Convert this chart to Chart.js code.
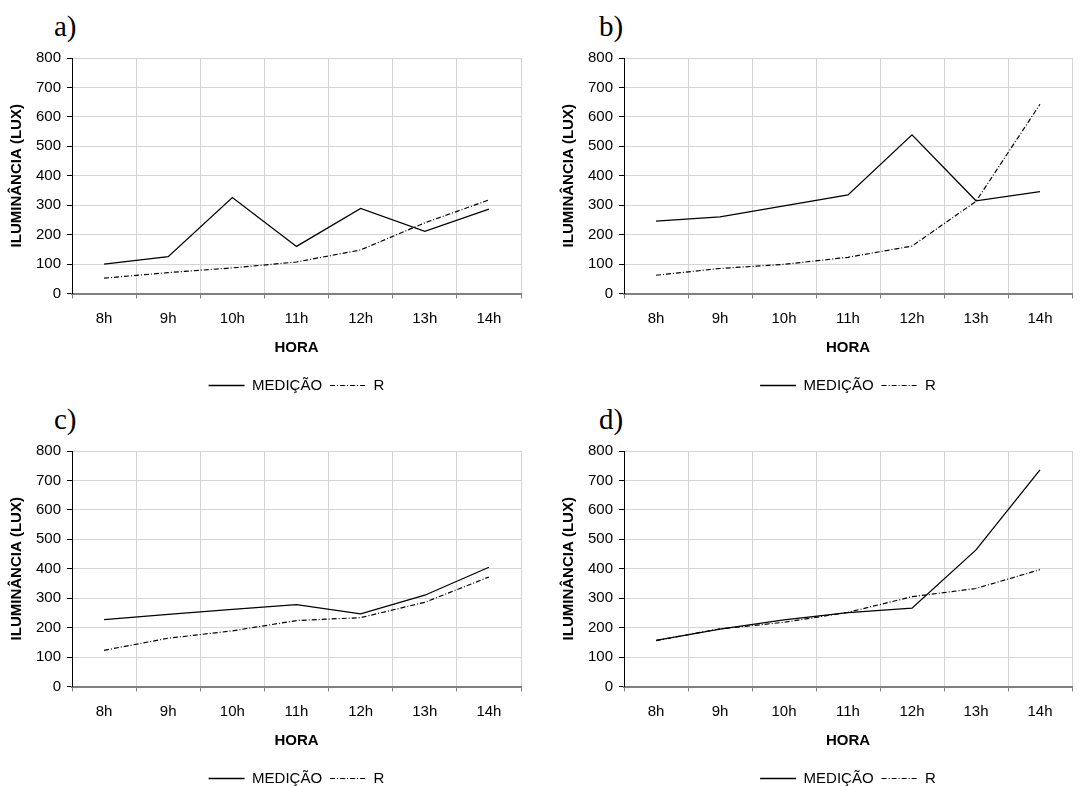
<!DOCTYPE html>
<html>
<head>
<meta charset="utf-8">
<script src="https://cdn.jsdelivr.net/npm/chart.js@4/dist/chart.umd.min.js"></script>
<style>
  body { margin: 0; background: #fff; width: 1083px; height: 786px; position: relative; overflow: hidden; }
  .panel { position: absolute; }
  .tag { position: absolute; font-family: "Liberation Serif", "Times New Roman", serif; font-size: 29px; line-height: 29px; color: #000; }
</style>
</head>
<body>
<div class="tag" style="left:54px;top:12px">a)</div>
<div class="tag" style="left:599px;top:12px">b)</div>
<div class="tag" style="left:54px;top:405px">c)</div>
<div class="tag" style="left:599px;top:405px">d)</div>

<div class="panel" style="left:0;top:0"><canvas id="chartA" width="541" height="405"></canvas></div>
<div class="panel" style="left:552px;top:0"><canvas id="chartB" width="531" height="405"></canvas></div>
<div class="panel" style="left:0;top:393px"><canvas id="chartC" width="541" height="405"></canvas></div>
<div class="panel" style="left:552px;top:393px"><canvas id="chartD" width="531" height="405"></canvas></div>

<script>
// data
const hours = ["8h", "9h", "10h", "11h", "12h", "13h", "14h"];
const yTicks = [0, 100, 200, 300, 400, 500, 600, 700, 800];

const medicaoA = [100, 125, 326, 160, 289, 211, 287];
const rA = [52, 71, 87, 107, 148, 240, 318];

const medicaoB = [246, 260, 298, 335, 539, 315, 346];
const rB = [62, 85, 99, 123, 161, 313, 643];

const medicaoC = [227, 245, 262, 278, 247, 310, 405];
const rC = [123, 164, 189, 224, 234, 286, 372];

const medicaoD = [157, 195, 226, 251, 266, 464, 736];
const rD = [156, 196, 218, 252, 305, 333, 397];

const FONT = "'Liberation Sans', Arial, sans-serif";
const DASH_DOT = [5, 2, 1, 2];

function makeChart(id, medicao, r, padRight) {
  const ctx = document.getElementById(id).getContext("2d");
  return new Chart(ctx, {
    type: "line",
    data: {
      labels: hours,
      datasets: [
        {
          label: "MEDIÇÃO",
          data: medicao,
          borderColor: "#000",
          borderWidth: 1.3,
          pointRadius: 0,
          pointStyle: "line",
          tension: 0,
        },
        {
          label: "R",
          data: r,
          borderColor: "#000",
          borderWidth: 1.2,
          borderDash: DASH_DOT,
          pointRadius: 0,
          pointStyle: "line",
          tension: 0,
        },
      ],
    },
    options: {
      responsive: false,
      animation: false,
      layout: { padding: { top: 58, right: padRight, bottom: 2, left: 0 } },
      plugins: {
        tooltip: { enabled: false },
        legend: {
          position: "bottom",
          fullSize: false,
          labels: {
            usePointStyle: true,
            pointStyleWidth: 36,
            boxHeight: 10,
            padding: 8,
            color: "#000",
            font: { family: FONT, size: 15 },
            // point style legend items lose the dataset dash, put it back
            generateLabels: (chart) => {
              const items = Chart.defaults.plugins.legend.labels.generateLabels(chart);
              items.forEach((item) => {
                const ds = chart.data.datasets[item.datasetIndex];
                item.lineDash = ds.borderDash || [];
                item.lineWidth = ds.borderWidth;
                item.strokeStyle = "#000";
                item.fillStyle = "#000";
              });
              return items;
            },
          },
        },
      },
      scales: {
        x: {
          offset: true,
          grid: { offset: true, color: "#d4d4d4", tickColor: "#808080", tickLength: 5 },
          border: { color: "#808080", width: 2 },
          ticks: { color: "#000", padding: 11, font: { family: FONT, size: 15 }, maxRotation: 0 },
          title: {
            display: true,
            text: "HORA",
            color: "#000",
            padding: { top: 13, bottom: 13 },
            font: { family: FONT, size: 15, weight: "bold" },
          },
          afterFit: (scale) => { scale.height = 76.5; },
        },
        y: {
          min: 0,
          max: 800,
          afterBuildTicks: (scale) => { scale.ticks = yTicks.map((v) => ({ value: v })); },
          grid: { color: "#d4d4d4", tickColor: "#000", tickLength: 5 },
          border: { color: "#000", width: 1 },
          ticks: { color: "#000", padding: 6, font: { family: FONT, size: 15 } },
          title: {
            display: true,
            text: "ILUMINÂNCIA (LUX)",
            color: "#000",
            padding: 8,
            font: { family: FONT, size: 15, weight: "bold" },
          },
          afterFit: (scale) => { scale.width = 72; },
        },
      },
    },
  });
}

makeChart("chartA", medicaoA, rA, 20);
makeChart("chartB", medicaoB, rB, 11);
makeChart("chartC", medicaoC, rC, 20);
makeChart("chartD", medicaoD, rD, 11);
</script>
</body>
</html>
